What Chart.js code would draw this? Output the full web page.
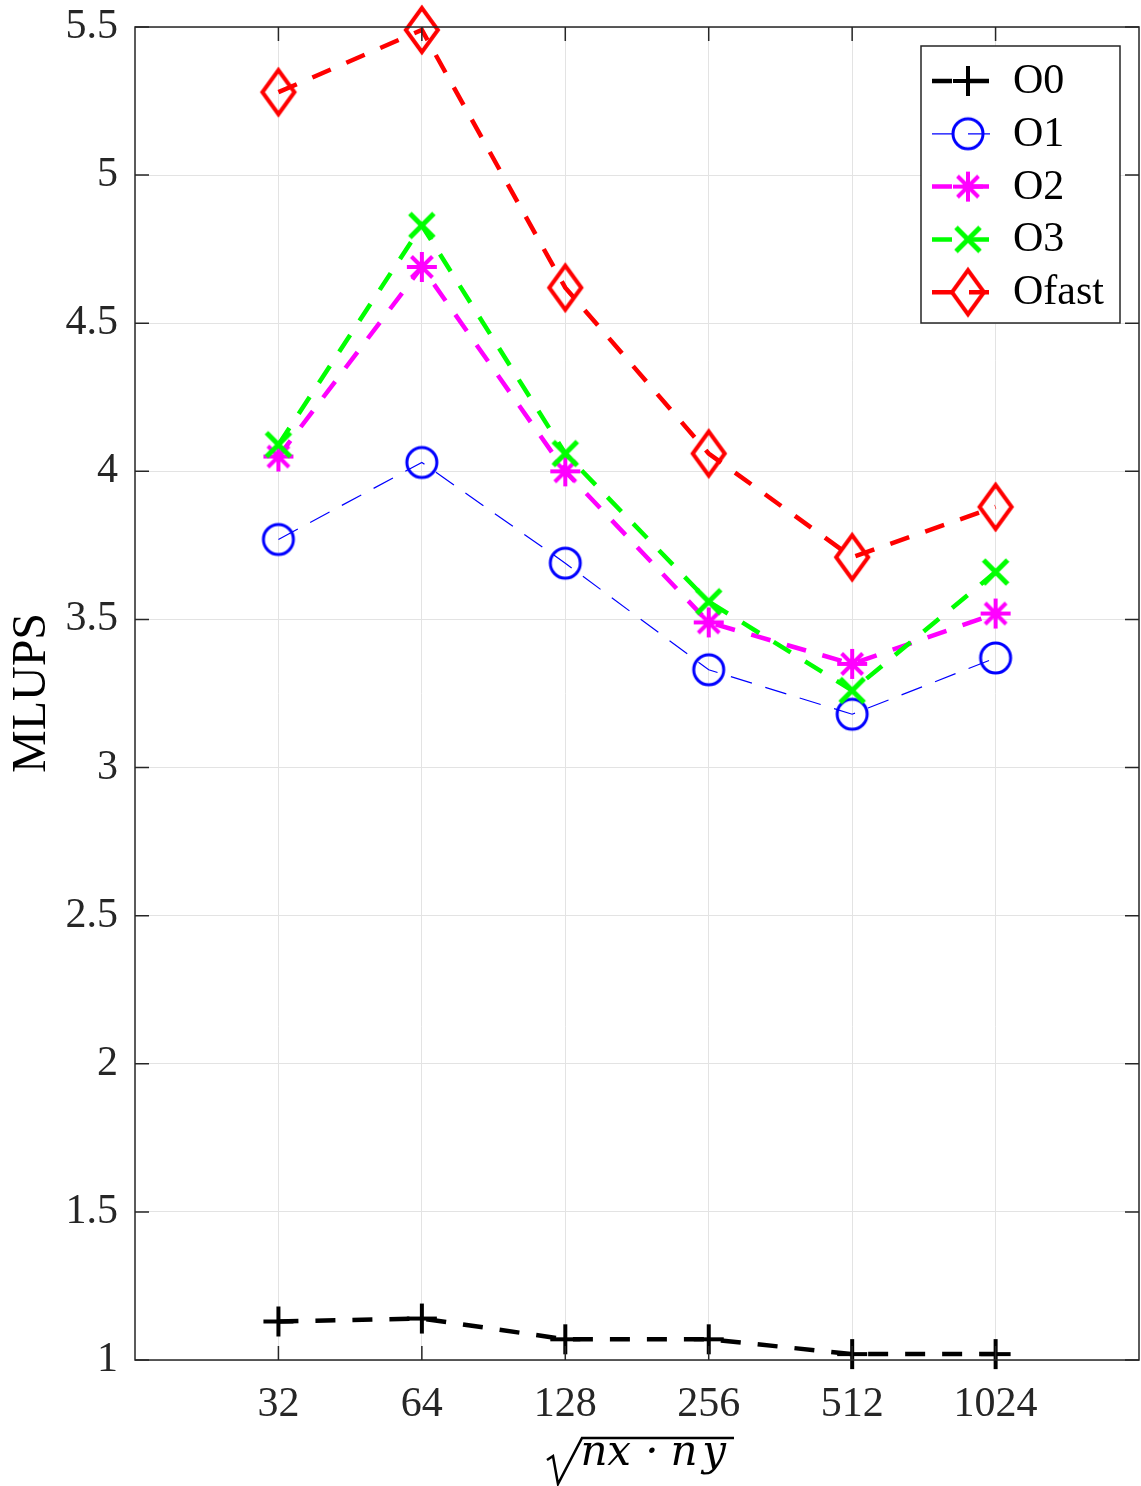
<!DOCTYPE html>
<html>
<head>
<meta charset="utf-8">
<script src="https://cdn.jsdelivr.net/npm/chart.js@4/dist/chart.umd.min.js"></script>
<style>
body{margin:0;background:#fff}
canvas{display:block}
</style>
</head>
<body>
<canvas id="plot" width="1141" height="1486"></canvas>
<script>
// grid sizes along x, MLUPS per compiler flag
let sizes=['32','64','128','256','512','1024']
let labels=['O0','O1','O2','O3','Ofast']
let o0=[1.13,1.14,1.07,1.07,1.02,1.02]
let o1=[3.77,4.03,3.69,3.33,3.18,3.37]
let o2=[4.05,4.69,4.00,3.49,3.35,3.52]
let o3=[4.09,4.83,4.06,3.56,3.26,3.66]
let ofast=[5.28,5.49,4.62,4.06,3.71,3.88]
let yMin=1
let yMax=5.5
let yStep=0.5

let serif='"Liberation Serif", serif'
let axisColor='#262626'

// matlab style markers as small canvases
function marker(kind,color,lw){
let c=document.createElement('canvas')
c.width=56
c.height=56
let g=c.getContext('2d')
g.strokeStyle=color
g.lineWidth=lw
g.translate(28,28)
g.beginPath()
if(kind=='plus'){
g.moveTo(-15,0);g.lineTo(15,0)
g.moveTo(0,-15);g.lineTo(0,15)
}
if(kind=='circle'){
g.arc(0,0,15,0,Math.PI*2)
}
if(kind=='star'){
g.moveTo(-15,0);g.lineTo(15,0)
g.moveTo(0,-15);g.lineTo(0,15)
g.moveTo(-10.5,-10.5);g.lineTo(10.5,10.5)
g.moveTo(-10.5,10.5);g.lineTo(10.5,-10.5)
}
if(kind=='x'){
g.moveTo(-12,-12);g.lineTo(12,12)
g.moveTo(-12,12);g.lineTo(12,-12)
}
if(kind=='diamond'){
g.moveTo(0,-22);g.lineTo(16,0);g.lineTo(0,22);g.lineTo(-16,0)
g.closePath()
}
g.stroke()
return c
}

let thickDash=[20,17]
let thinDash=[22,14]

let styles=[
{color:'#000000',width:4.5,dash:thickDash,mark:marker('plus','#000000',4)},
{color:'#0000ff',width:1.2,dash:thinDash,mark:marker('circle','#0000ff',3)},
{color:'#ff00ff',width:4.5,dash:thickDash,mark:marker('star','#ff00ff',4)},
{color:'#00ff00',width:4.5,dash:thickDash,mark:marker('x','#00ff00',5)},
{color:'#ff0000',width:4.5,dash:thickDash,mark:marker('diamond','#ff0000',4)}
]

let series=[o0,o1,o2,o3,ofast]

let datasets=series.map((vals,k)=>({
label:labels[k],
data:vals.map((v,i)=>({x:i,y:v})),
borderColor:styles[k].color,
borderWidth:styles[k].width,
borderDash:styles[k].dash,
pointStyle:styles[k].mark,
pointRadius:16,
fill:false,
tension:0,
clip:false,
order:series.length-k
}))

let frame={
id:'frame',
beforeDraw(chart){
let ctx=chart.ctx
ctx.save()
ctx.fillStyle='#fff'
ctx.fillRect(0,0,chart.width,chart.height)
ctx.restore()
},
afterDatasetsDraw(chart){
let ctx=chart.ctx
let a=chart.chartArea
let xs=chart.scales.x
let ys=chart.scales.y
ctx.save()
ctx.strokeStyle=axisColor
ctx.lineWidth=1.5
ctx.strokeRect(a.left,a.top,a.right-a.left,a.bottom-a.top)
ctx.beginPath()
for(let v=yMin;v<=yMax+1e-9;v+=yStep){
let y=ys.getPixelForValue(v)
ctx.moveTo(a.left,y);ctx.lineTo(a.left+14,y)
ctx.moveTo(a.right,y);ctx.lineTo(a.right-14,y)
}
sizes.forEach((s,i)=>{
let x=xs.getPixelForValue(i)
ctx.moveTo(x,a.bottom);ctx.lineTo(x,a.bottom-14)
ctx.moveTo(x,a.top);ctx.lineTo(x,a.top+14)
})
ctx.stroke()

// legend
let lx=921,ly=46,lw=199,lh=277
ctx.fillStyle='#fff'
ctx.fillRect(lx,ly,lw,lh)
ctx.strokeStyle=axisColor
ctx.lineWidth=1.5
ctx.strokeRect(lx,ly,lw,lh)
ctx.font='42px '+serif
ctx.textBaseline='middle'
ctx.textAlign='left'
labels.forEach((name,k)=>{
let st=styles[k]
let y=81+k*52.8
ctx.strokeStyle=st.color
ctx.lineWidth=st.width
ctx.setLineDash(st.dash)
ctx.beginPath()
ctx.moveTo(932,y);ctx.lineTo(991,y)
ctx.stroke()
ctx.setLineDash([])
ctx.drawImage(st.mark,968-st.mark.width/2,y-st.mark.height/2)
ctx.fillStyle='#000'
ctx.fillText(name,1013,y+1)
})

// axis titles
ctx.fillStyle='#000'
ctx.save()
ctx.translate(32,693)
ctx.rotate(-Math.PI/2)
ctx.textAlign='center'
ctx.textBaseline='middle'
ctx.font='48px '+serif
ctx.fillText('MLUPS',0,0)
ctx.restore()

ctx.font='italic 42px "DejaVu Serif", serif'
ctx.textBaseline='alphabetic'
ctx.textAlign='center'
let glyphs=[['n',594],['x',619],['\u00b7',652],['n',684],['y',714]]
glyphs.forEach(g=>ctx.fillText(g[0],g[1],1465))
ctx.strokeStyle='#000'
ctx.lineWidth=2.5
ctx.beginPath()
ctx.moveTo(547,1460)
ctx.lineTo(553,1456)
ctx.lineTo(558,1484)
ctx.lineTo(582,1438)
ctx.lineTo(734,1438)
ctx.stroke()
ctx.restore()
}
}

new Chart(document.getElementById('plot'),{
type:'line',
data:{datasets:datasets},
options:{
responsive:false,
animation:false,
events:[],
layout:{autoPadding:false,padding:{top:27,right:2,left:0,bottom:0}},
plugins:{legend:{display:false},tooltip:{enabled:false}},
scales:{
x:{
type:'linear',
min:-1,
max:6,
afterFit:s=>{s.height=126;s.paddingLeft=0;s.paddingRight=0},
afterBuildTicks:s=>{s.ticks=sizes.map((t,i)=>({value:i}))},
grid:{color:'#e3e3e3',lineWidth:1,drawTicks:false},
border:{display:false},
ticks:{
callback:v=>sizes[v],
color:'#262626',
font:{family:serif,size:42},
padding:20,
maxRotation:0,
autoSkip:false
}
},
y:{
min:yMin,
max:yMax,
afterFit:s=>{s.width=135;s.paddingTop=0;s.paddingBottom=0},
grid:{color:'#e3e3e3',lineWidth:1,drawTicks:false},
border:{display:false},
ticks:{
stepSize:yStep,
callback:v=>String(v),
color:'#262626',
font:{family:serif,size:42},
padding:17
}
}
}
},
plugins:[frame]
})
</script>
</body>
</html>
